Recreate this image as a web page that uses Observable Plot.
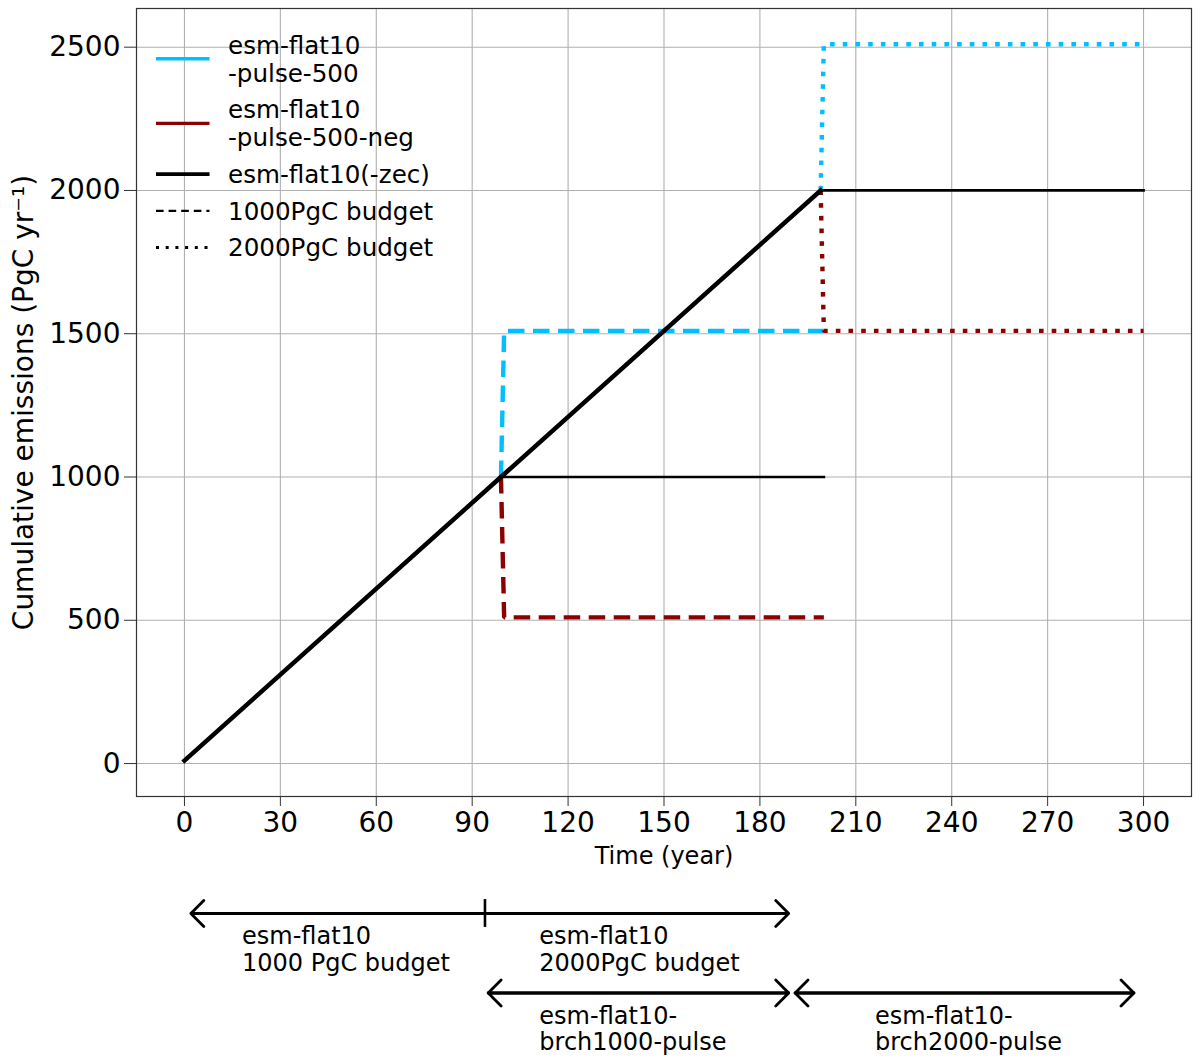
<!DOCTYPE html>
<html><head><meta charset="utf-8">
<script src="https://cdn.jsdelivr.net/npm/d3@7"></script>
<script src="https://cdn.jsdelivr.net/npm/@observablehq/plot@0.6"></script>
<style>
body{margin:0;background:#fff;font-family:"DejaVu Sans",sans-serif;}
#chart{position:relative;width:1200px;height:1062px;background:#fff;}
#chart svg{display:block;}
</style></head><body><div id="chart"></div>
<script>
// ---- tick labels ----
const xTicks = [0, 30, 60, 90, 120, 150, 180, 210, 240, 270, 300];
const yTicks = [0, 500, 1000, 1500, 2000, 2500];

// ---- series (year, cumulative emissions PgC) ----
const flat10Years = [0, 99, 199];
const flat10Values = [10, 1000, 2000];
const zec1000Years = [99, 200];
const zec1000Values = [1000, 1000];
const zec2000Years = [199, 300];
const zec2000Values = [2000, 2000];
const pulse1000Years = [99, 100, 200];
const pulse1000Values = [1000, 1510, 1510];
const neg1000Years = [99, 100, 200];
const neg1000Values = [1000, 510, 510];
const pulse2000Years = [199, 200, 300];
const pulse2000Values = [2000, 2510, 2510];
const neg2000Years = [199, 200, 300];
const neg2000Values = [2000, 1510, 1510];

// ---- legend ----
const legendLabels = ["esm-flat10\n-pulse-500", "esm-flat10\n-pulse-500-neg", "esm-flat10(-zec)", "1000PgC budget", "2000PgC budget"];

// ---- experiment period annotations ----
const arrowFrom = [94, 94, 95, 189, 191, 297];
const arrowTo   = [2, 189, 189, 95, 297, 191];
const arrowRow  = [0, 0, 1, 1, 1, 1];
const dividerYears = [94];
const dividerRow = [0];
const annotLabels = ["esm-flat10\n1000 PgC budget", "esm-flat10\n2000PgC budget", "esm-flat10-\nbrch1000-pulse", "esm-flat10-\nbrch2000-pulse"];
const annotYears = [18, 111, 111, 216];
const annotRow = [0, 0, 1, 1];

// ---- styles ----
const CYAN = "#00bfff", DARKRED = "#8b0000", BLACK = "#000";
const dashed = "16.5,8.5", dotted = "4.6,8.1";
const seriesDefs = [
  {years: pulse1000Years, values: pulse1000Values, stroke: CYAN, width: 4.4, dash: dashed},
  {years: neg1000Years, values: neg1000Values, stroke: DARKRED, width: 4.4, dash: dashed},
  {years: pulse2000Years, values: pulse2000Values, stroke: CYAN, width: 4.4, dash: dotted},
  {years: neg2000Years, values: neg2000Values, stroke: DARKRED, width: 4.4, dash: dotted},
  {years: zec1000Years, values: zec1000Values, stroke: BLACK, width: 2.7, dash: null},
  {years: zec2000Years, values: zec2000Values, stroke: BLACK, width: 2.7, dash: null},
  {years: flat10Years, values: flat10Values, stroke: BLACK, width: 4.5, dash: null}
];
const legendStyles = [
  {stroke: CYAN, width: 3.3, dash: null},
  {stroke: DARKRED, width: 3.3, dash: null},
  {stroke: BLACK, width: 3.7, dash: null},
  {stroke: BLACK, width: 2.2, dash: "7.6,5"},
  {stroke: BLACK, width: 3, dash: "3,6.7"}
];

const FONT = "DejaVu Sans";
const W = 1200, H1 = 870, H2 = 1062 - 870;
const ML = 136, MR = 9;

const lineMarks = seriesDefs.map(s => Plot.line(d3.zip(s.years, s.values), {
  x: d => d[0], y: d => d[1],
  stroke: s.stroke, strokeWidth: s.width,
  strokeDasharray: s.dash || undefined,
  strokeLinecap: s.dash ? "butt" : "square",
  strokeLinejoin: s.dash ? "miter" : "round"
}));

const plot1 = Plot.plot({
  width: W, height: H1,
  marginLeft: ML, marginRight: MR, marginTop: 8, marginBottom: H1 - 796,
  style: {fontFamily: FONT, background: "#fff", overflow: "visible"},
  x: {domain: [-15, 315]},
  y: {domain: [-115, 2635]},
  marks: [
    Plot.gridX(xTicks, {stroke: "#b0b0b0", strokeOpacity: 1, strokeWidth: 1.1}),
    Plot.gridY(yTicks, {stroke: "#b0b0b0", strokeOpacity: 1, strokeWidth: 1.1}),
    Plot.axisX(xTicks, {tickSize: 10, tickPadding: 6, fontSize: 28, label: null, stroke: "#333", tickFormat: d => String(d)}),
    Plot.axisY(yTicks, {tickSize: 12, tickPadding: 4, fontSize: 28, label: null, stroke: "#333", tickFormat: d => String(d)}),
    ...lineMarks,
    Plot.frame({stroke: "#333", strokeWidth: 1.2}),
    Plot.text(["Time (year)"], {frameAnchor: "bottom", textAnchor: "middle", dy: 59.5, lineAnchor: "middle", fontSize: 24, fill: "#000"}),
    Plot.text(["Cumulative emissions (PgC yr\u207B\u00B9)"], {frameAnchor: "left", textAnchor: "middle", dx: -112, rotate: -90, lineAnchor: "middle", fontSize: 28, fill: "#000"})
  ]
});

// legend (drawn into the plot's svg, no frame)
{
  const svg = d3.select(plot1);
  const g = svg.append("g").attr("font-family", FONT).attr("font-size", 24.6).attr("text-anchor", "start");
  const lineH = 28, textH = 24.5, gap = 12.2;
  let top = 32.5;
  legendLabels.forEach((lab, i) => {
    const lines = lab.split("\n");
    const h = textH + (lines.length - 1) * lineH;
    const cy = top + h / 2;
    const st = legendStyles[i];
    g.append("line").attr("x1", 156).attr("x2", 209.5).attr("y1", cy).attr("y2", cy)
      .attr("stroke", st.stroke).attr("stroke-width", st.width)
      .attr("stroke-dasharray", st.dash).attr("stroke-linecap", "butt");
    lines.forEach((t, j) => {
      g.append("text").attr("x", 228).attr("y", cy + (j - (lines.length - 1) / 2) * lineH)
        .attr("dy", "0.36em").attr("text-anchor", "start").attr("fill", "#000").text(t);
    });
    top += h + gap;
  });
}

const arrowIdx = d3.range(arrowFrom.length);
const annIdx = d3.range(annotLabels.length);
const plot2 = Plot.plot({
  width: W, height: H2,
  marginLeft: ML, marginRight: MR, marginTop: 0, marginBottom: 0,
  style: {fontFamily: FONT, background: "#fff", overflow: "visible"},
  x: {domain: [-15, 315], axis: null},
  y: {domain: [0, 1], range: [43, 122.5], axis: null},
  marks: [
    Plot.arrow(arrowIdx, {
      x1: i => arrowFrom[i], x2: i => arrowTo[i], y1: i => arrowRow[i], y2: i => arrowRow[i],
      stroke: "#000", strokeWidth: 2.8, headLength: 9.8, headAngle: 90, inset: 0
    }),
    Plot.ruleX(d3.range(dividerYears.length), {
      x: i => dividerYears[i], y1: i => dividerRow[i] - 0.175, y2: i => dividerRow[i] + 0.175,
      stroke: "#000", strokeWidth: 2.6
    }),
    Plot.text(annIdx, {
      x: i => annotYears[i], y: i => annotRow[i], text: i => annotLabels[i],
      textAnchor: "start", lineAnchor: "top", dy: 11.7, fontSize: 24, lineHeight: 1.11, fill: "#000"
    })
  ]
});

const chart = document.getElementById("chart");
chart.appendChild(plot1);
chart.appendChild(plot2);
</script>
</body></html>
